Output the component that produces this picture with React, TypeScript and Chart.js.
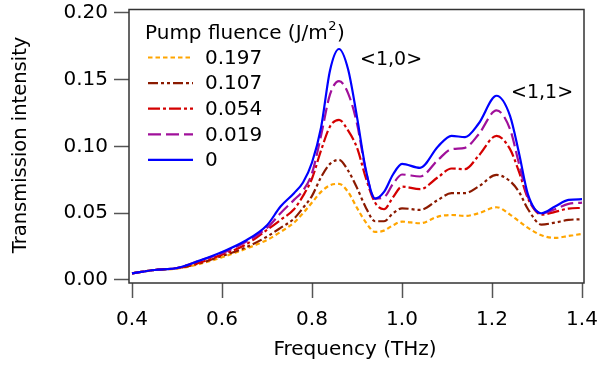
import React, { useEffect, useRef } from "react";
import { Chart, registerables } from "chart.js";

Chart.register(...registerables);

// Frequency axis (THz)
const frequency = [
  0.40, 0.45, 0.50, 0.55, 0.60, 0.65, 0.70, 0.73, 0.76, 0.78, 0.80, 0.82,
  0.84, 0.86, 0.88, 0.90, 0.92, 0.94, 0.96, 0.98, 1.00, 1.04, 1.08, 1.11,
  1.14, 1.17, 1.21, 1.24, 1.26, 1.28, 1.31, 1.34, 1.37, 1.40,
];

// Pump fluence labels (J/m^2)
const fluenceLabels = ["0.197", "0.107", "0.054", "0.019", "0"];

const series0197 = [
  0.005, 0.0075, 0.0085, 0.012, 0.017, 0.023, 0.030, 0.036, 0.043, 0.050, 0.058, 0.066,
  0.071, 0.072, 0.066, 0.054, 0.043, 0.036, 0.037, 0.041, 0.0437, 0.0425, 0.0475, 0.0487,
  0.048, 0.050, 0.0545, 0.049, 0.044, 0.039, 0.0335, 0.0315, 0.033, 0.0345,
];
const series0107 = [
  0.005, 0.0075, 0.0088, 0.0125, 0.018, 0.024, 0.0325, 0.039, 0.046, 0.054, 0.063, 0.077,
  0.087, 0.090, 0.082, 0.069, 0.054, 0.044, 0.044, 0.050, 0.0537, 0.0525, 0.060, 0.065,
  0.065, 0.070, 0.0787, 0.074, 0.066, 0.053, 0.0415, 0.043, 0.045, 0.0455,
];
const series0054 = [
  0.005, 0.0075, 0.009, 0.013, 0.019, 0.026, 0.0375, 0.045, 0.053, 0.063, 0.076, 0.097,
  0.115, 0.120, 0.112, 0.099, 0.076, 0.058, 0.053, 0.062, 0.070, 0.068, 0.077, 0.0835,
  0.083, 0.093, 0.108, 0.098, 0.081, 0.061, 0.049, 0.051, 0.0535, 0.054,
];
const series0019 = [
  0.005, 0.0075, 0.009, 0.0145, 0.020, 0.028, 0.039, 0.050, 0.060, 0.067, 0.080, 0.108,
  0.139, 0.149, 0.140, 0.117, 0.081, 0.061, 0.062, 0.072, 0.079, 0.0775, 0.090, 0.098,
  0.099, 0.109, 0.127, 0.113, 0.087, 0.062, 0.050, 0.053, 0.057, 0.058,
];
const series0 = [
  0.005, 0.0075, 0.009, 0.0145, 0.021, 0.029, 0.041, 0.055, 0.065, 0.073, 0.088, 0.114,
  0.157, 0.173, 0.158, 0.122, 0.082, 0.061, 0.066, 0.079, 0.087, 0.084, 0.100, 0.108,
  0.107, 0.117, 0.138, 0.123, 0.095, 0.064, 0.050, 0.055, 0.060, 0.0605,
];

const xTicks = [0.4, 0.6, 0.8, 1.0, 1.2, 1.4];
const yTicks = [0.0, 0.05, 0.1, 0.15, 0.2];

const peakLabels = ["<1,0>", "<1,1>"];

const FONT = "'DejaVu Sans', Verdana, sans-serif";

const styles = [
  { color: "#FFA500", dash: [4.5, 3] },
  { color: "#8B1A00", dash: [10, 3, 3, 3, 3, 3] },
  { color: "#D40000", dash: [12, 3, 3, 3] },
  { color: "#A0109A", dash: [13, 5] },
  { color: "#0000FF", dash: [] as number[] },
];

const allSeries = [series0197, series0107, series0054, series0019, series0];

export default function App() {
  const ref = useRef<HTMLCanvasElement | null>(null);

  useEffect(() => {
    if (!ref.current) return;

    const framePlugin = {
      id: "frameAndText",
      afterDatasetsDraw(chart: any) {
        const { ctx, chartArea } = chart;
        ctx.save();
        ctx.strokeStyle = "#333";
        ctx.lineWidth = 1.5;
        ctx.strokeRect(chartArea.left, chartArea.top, chartArea.right - chartArea.left, chartArea.bottom - chartArea.top);
        ctx.restore();
      },
      afterDraw(chart: any) {
        const { ctx } = chart;
        ctx.save();
        ctx.fillStyle = "#000";
        // axis titles
        ctx.font = `20px ${FONT}`;
        ctx.textAlign = "center";
        ctx.textBaseline = "middle";
        ctx.fillText("Frequency (THz)", 355, 350);
        ctx.save();
        ctx.translate(21, 145);
        ctx.rotate(-Math.PI / 2);
        ctx.font = `19.5px ${FONT}`;
        ctx.fillText("Transmission intensity", 0, 0);
        ctx.restore();

        // legend title with superscript
        ctx.textAlign = "left";
        ctx.textBaseline = "alphabetic";
        ctx.font = `20px ${FONT}`;
        let tx = 145;
        const ty = 39;
        const part1 = "Pump fluence (J/m";
        ctx.fillText(part1, tx, ty);
        tx += ctx.measureText(part1).width;
        ctx.font = `13px ${FONT}`;
        ctx.fillText("2", tx + 0.5, ty - 9);
        tx += ctx.measureText("2").width + 1;
        ctx.font = `20px ${FONT}`;
        ctx.fillText(")", tx, ty);

        // legend entries
        ctx.textBaseline = "middle";
        fluenceLabels.forEach((lab, i) => {
          const y = 57.5 + i * 25.6;
          ctx.save();
          ctx.strokeStyle = styles[i].color;
          ctx.lineWidth = 2.2;
          ctx.setLineDash(styles[i].dash);
          ctx.beginPath();
          ctx.moveTo(148, y);
          ctx.lineTo(193, y);
          ctx.stroke();
          ctx.restore();
          ctx.fillText(lab, 205, y + 1);
        });

        // peak annotations
        ctx.font = `19px ${FONT}`;
        ctx.textAlign = "left";
        ctx.fillText(peakLabels[0], 360, 60);
        ctx.fillText(peakLabels[1], 511, 93);
        ctx.restore();
      },
    };

    const zeroPad = (s: any) => {
      s.paddingLeft = 0;
      s.paddingRight = 0;
      s.paddingTop = 0;
      s.paddingBottom = 0;
    };

    const chart = new Chart(ref.current, {
      type: "line",
      data: {
        datasets: allSeries.map((s, i) => ({
          label: fluenceLabels[i],
          data: frequency.map((f, j) => ({ x: f, y: s[j] })),
          borderColor: styles[i].color,
          borderDash: styles[i].dash,
          borderWidth: 2.2,
          pointRadius: 0,
          fill: false,
          cubicInterpolationMode: "monotone" as const,
          order: 4 - i,
        })),
      },
      options: {
        animation: false,
        responsive: false,
        devicePixelRatio: 1,
        layout: { padding: { left: 0, top: 9.5, right: 15, bottom: 0 } },
        plugins: {
          legend: { display: false },
          tooltip: { enabled: false },
        },
        scales: {
          x: {
            type: "linear",
            min: 0.3933,
            max: 1.4044,
            afterBuildTicks: (s: any) => {
              s.ticks = xTicks.map((v) => ({ value: v }));
            },
            afterFit: (s: any) => {
              s.height = 82;
              zeroPad(s);
            },
            ticks: {
              autoSkip: false,
              maxRotation: 0,
              padding: 10,
              color: "#000",
              font: { family: FONT, size: 20 },
              callback: (v: any) => Number(v).toFixed(1),
            },
            grid: {
              drawOnChartArea: false,
              drawTicks: true,
              tickLength: 15,
              tickColor: "#555",
              tickWidth: 1.5,
            },
            border: { display: false },
          },
          y: {
            type: "linear",
            min: -0.00225,
            max: 0.2026,
            afterBuildTicks: (s: any) => {
              s.ticks = yTicks.map((v) => ({ value: v }));
            },
            afterFit: (s: any) => {
              s.width = 129;
              zeroPad(s);
            },
            ticks: {
              autoSkip: false,
              padding: 6,
              color: "#000",
              font: { family: FONT, size: 20 },
              callback: (v: any) => Number(v).toFixed(2),
            },
            grid: {
              drawOnChartArea: false,
              drawTicks: true,
              tickLength: 15,
              tickColor: "#555",
              tickWidth: 1.5,
            },
            border: { display: false },
          },
        },
      },
      plugins: [framePlugin],
    });

    return () => chart.destroy();
  }, []);

  return (
    <div style={{ position: "absolute", left: 0, top: 0, width: 599, height: 365, background: "#fff" }}>
      <canvas ref={ref} width={599} height={365} style={{ width: 599, height: 365 }} />
    </div>
  );
}
